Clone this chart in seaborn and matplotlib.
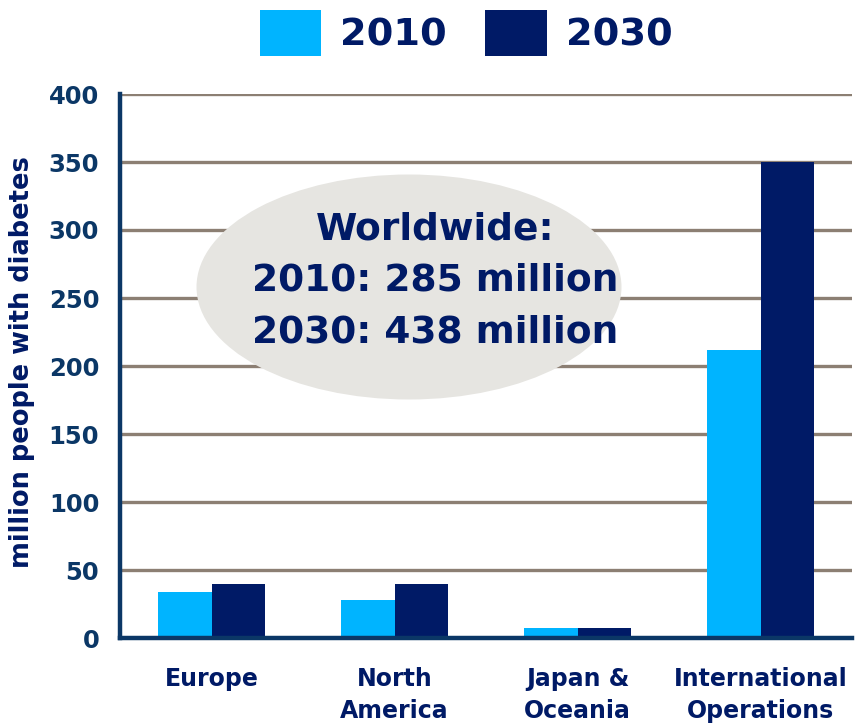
import matplotlib
matplotlib.use("Agg")
import matplotlib.pyplot as plt
import seaborn as sns
import pandas as pd
from matplotlib.patches import Ellipse, Patch

regions = ["Europe", "North\nAmerica", "Japan &\nOceania", "International\nOperations"]
values_2010 = [34, 28, 7, 212]
values_2030 = [40, 40, 7, 350]
years = ["2010", "2030"]
y_ticks = [0, 50, 100, 150, 200, 250, 300, 350, 400]
annotation = "Worldwide:\n2010: 285 million\n2030: 438 million"
y_label = "million people with diabetes"

C2010 = "#00B4FF"
C2030 = "#001A66"
AXC = "#0B3766"
GRID = "#8C7F73"

df = pd.DataFrame({
    "region": regions * 2,
    "year": [years[0]] * len(regions) + [years[1]] * len(regions),
    "value": values_2010 + values_2030,
})

sns.set_style("white")
plt.rcParams["font.family"] = ["DejaVu Sans"]

fig = plt.figure(figsize=(8.58, 7.25), dpi=100)
ax = fig.add_axes([120 / 858, 1 - 638 / 725, (852 - 120) / 858, (638 - 94) / 725])

sns.barplot(data=df, x="region", y="value", hue="year", order=regions,
            hue_order=years, palette=[C2010, C2030], width=0.58, gap=0,
            saturation=1, ax=ax, legend=False, edgecolor="none", linewidth=0)

ax.set_xlim(-0.5, len(regions) - 0.5)
ax.set_ylim(0, 400)
ax.set_yticks(y_ticks)
ax.set_axisbelow(True)
ax.yaxis.grid(True, color=GRID, linewidth=2.4)
ax.xaxis.grid(False)

for s in ["top", "right"]:
    ax.spines[s].set_visible(False)
for s in ["left", "bottom"]:
    ax.spines[s].set_color(AXC)
    ax.spines[s].set_linewidth(3.2)

ax.tick_params(axis="y", which="major", direction="inout", length=12, width=3.2,
               color=AXC, labelsize=17.5, labelcolor=AXC, pad=9)
for lab in ax.get_yticklabels():
    lab.set_fontweight("bold")

ax.set_xticks(range(len(regions)))
ax.set_xticklabels(regions, fontsize=17, fontweight="bold", color=C2030,
                   linespacing=1.42)
ax.tick_params(axis="x", which="major", length=0, pad=21)
ax.set_xticks([i - 0.5 for i in range(len(regions) + 1)], minor=True)
ax.tick_params(axis="x", which="minor", direction="out", length=9, width=3.2, color=AXC)

ax.set_xlabel("")
ax.set_ylabel(y_label, fontsize=18.5, fontweight="bold", color=C2030)
ax.yaxis.set_label_coords(22 / 858, 0.5, transform=fig.transFigure)
ax.yaxis.label.set_va("center")

# ellipse annotation (in figure pixel coords)
ell = Ellipse((409 / 858, 1 - 287 / 725), 425 / 858, 225 / 725, transform=fig.transFigure,
              facecolor="#E6E5E1", edgecolor="none", zorder=3)
ax.add_patch(ell)
ell.set_clip_on(False)
fig.text(435 / 858, 1 - 281 / 725, annotation, ha="center", va="center", fontsize=27,
         fontweight="bold", color=C2030, linespacing=1.56, zorder=4)

handles = [Patch(facecolor=C2010, edgecolor="none"), Patch(facecolor=C2030, edgecolor="none")]
leg = fig.legend(handles, years, loc="center", bbox_to_anchor=(466 / 858, 1 - 33 / 725),
                 ncol=2, frameon=False, fontsize=27.5, handlelength=1.61, handleheight=1.46,
                 handletextpad=0.5, columnspacing=1.0, borderpad=0)
for t in leg.get_texts():
    t.set_fontweight("bold")
    t.set_color(C2030)

fig.savefig("out.png", dpi=100)
